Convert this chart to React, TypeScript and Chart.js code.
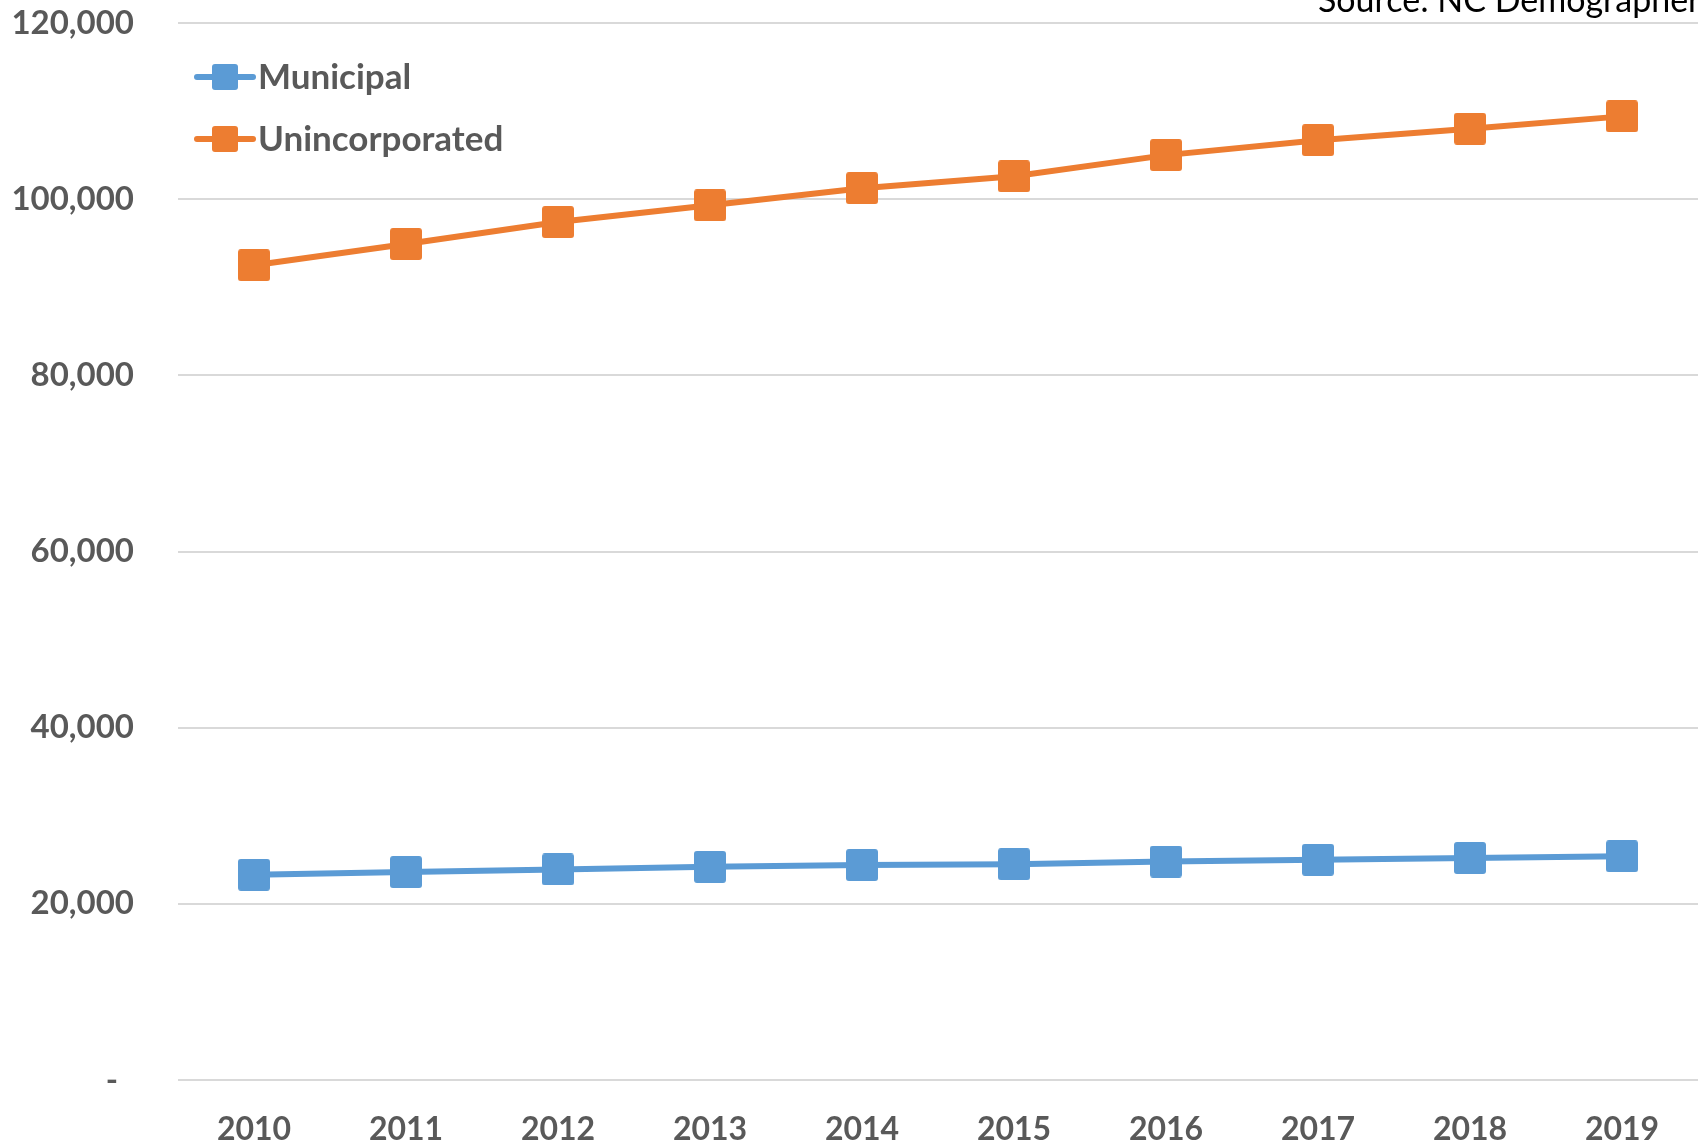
import React, { useEffect, useRef } from "react";
import { Chart, registerables } from "chart.js";

Chart.register(...registerables);

const years = ["2010", "2011", "2012", "2013", "2014", "2015", "2016", "2017", "2018", "2019"];
const municipal = [23300, 23600, 23900, 24200, 24400, 24500, 24800, 25000, 25200, 25400];
const unincorporated = [92500, 94900, 97400, 99300, 101250, 102600, 105000, 106700, 108000, 109400];
const seriesNames = ["Municipal", "Unincorporated"];
const seriesColors = ["#5B9BD5", "#ED7D31"];
const sourceText = "Source: NC Demographer";

const FONT = "Lato, 'Open Sans', sans-serif";
const TEXT_GRAY = "#595959";

function makeMarker(color: string, size: number, corner: number): HTMLCanvasElement {
  const c = document.createElement("canvas");
  c.width = size;
  c.height = size;
  const ctx = c.getContext("2d")!;
  ctx.fillStyle = color;
  ctx.beginPath();
  (ctx as any).roundRect(0, 0, size, size, corner);
  ctx.fill();
  return c;
}

const legendPlugin = {
  id: "insideLegend",
  afterDraw(chart: any) {
    const { ctx, chartArea } = chart;
    ctx.save();
    chart.data.datasets.forEach((ds: any, i: number) => {
      const cy = chartArea.top + 54 + i * 62;
      const x0 = chartArea.left + 19;
      ctx.strokeStyle = ds.borderColor;
      ctx.lineWidth = 6;
      ctx.lineCap = "round";
      ctx.beginPath();
      ctx.moveTo(x0, cy);
      ctx.lineTo(x0 + 56, cy);
      ctx.stroke();
      ctx.fillStyle = ds.borderColor;
      ctx.beginPath();
      ctx.roundRect(x0 + 15, cy - 13, 26, 26, 3);
      ctx.fill();
      ctx.fillStyle = TEXT_GRAY;
      ctx.font = `bold 35px ${FONT}`;
      ctx.textAlign = "left";
      ctx.textBaseline = "middle";
      ctx.fillText(ds.label, x0 + 61, cy + 1);
    });
    ctx.restore();
  },
};

const sourcePlugin = {
  id: "sourceNote",
  afterDraw(chart: any) {
    const { ctx } = chart;
    ctx.save();
    ctx.fillStyle = "#000000";
    ctx.font = `34px ${FONT}`;
    ctx.textAlign = "left";
    ctx.textBaseline = "alphabetic";
    ctx.fillText(sourceText, 1318, 12);
    ctx.restore();
  },
};

function zeroPadding(scale: any) {
  scale.paddingTop = 0;
  scale.paddingBottom = 0;
  scale.paddingLeft = 0;
  scale.paddingRight = 0;
}

export default function App() {
  const ref = useRef<HTMLCanvasElement | null>(null);

  useEffect(() => {
    if (!ref.current) return;
    const values = [municipal, unincorporated];
    const chart = new Chart(ref.current, {
      type: "line",
      data: {
        labels: years,
        datasets: values.map((v, i) => ({
          label: seriesNames[i],
          data: v,
          borderColor: seriesColors[i],
          backgroundColor: seriesColors[i],
          borderWidth: 6,
          pointStyle: makeMarker(seriesColors[i], 32, 3) as any,
          pointRadius: 16,
          pointHoverRadius: 16,
          tension: 0,
          fill: false,
          clip: false,
        })),
      },
      options: {
        responsive: false,
        animation: false,
        layout: { autoPadding: false, padding: { left: 0, right: 2, top: 23, bottom: 0 } },
        plugins: {
          legend: { display: false },
          tooltip: { enabled: false },
          title: { display: false },
        },
        scales: {
          x: {
            offset: true,
            grid: { display: false, drawTicks: false },
            border: { display: false },
            ticks: {
              color: TEXT_GRAY,
              font: { family: FONT, size: 32, weight: "bold" },
              padding: 30,
              maxRotation: 0,
            },
            afterFit(scale: any) {
              scale.height = 67;
              zeroPadding(scale);
            },
          },
          y: {
            min: 0,
            max: 120000,
            grid: { color: "#D9D9D9", lineWidth: 2, drawTicks: false },
            border: { display: false },
            ticks: {
              stepSize: 20000,
              color: TEXT_GRAY,
              font: { family: FONT, size: 33, weight: "bold" },
              padding: 44,
              callback: (v: any) => (Number(v) === 0 ? "-  " : Number(v).toLocaleString("en-US")),
            },
            afterFit(scale: any) {
              scale.width = 178;
              zeroPadding(scale);
            },
          },
        },
      },
      plugins: [legendPlugin, sourcePlugin],
    });
    return () => chart.destroy();
  }, []);

  return (
    <div style={{ position: "fixed", left: 0, top: 0, width: 1700, height: 1147, background: "#fff" }}>
      <canvas ref={ref} width={1700} height={1147} style={{ display: "block" }} />
    </div>
  );
}
